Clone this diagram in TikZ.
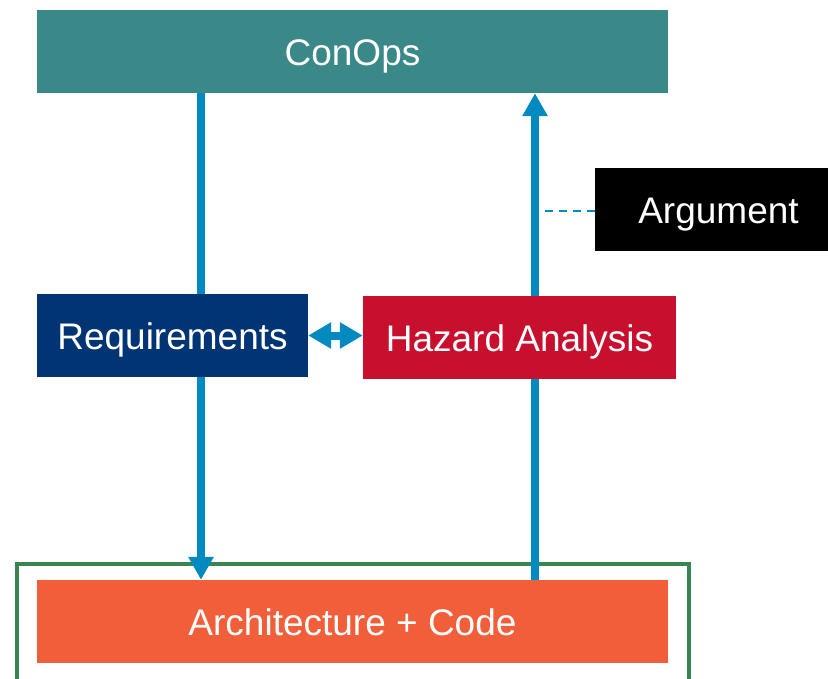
\documentclass[tikz,border=0pt]{standalone}
\usepackage{fontspec}
\setmainfont{Liberation Sans}
\usetikzlibrary{arrows.meta}
\definecolor{teal1}{HTML}{3A8887}
\definecolor{navy1}{HTML}{003473}
\definecolor{crimson1}{HTML}{C8102E}
\definecolor{orange1}{HTML}{F05F3A}
\definecolor{green1}{HTML}{3A8452}
\definecolor{flow}{HTML}{008AC0}
\tikzset{
  box/.style={rectangle, inner sep=0pt, text=white, minimum height=83pt,
    text height=27pt, text depth=-2pt,
    font=\fontsize{37}{44}\selectfont},
  flowline/.style={draw=flow, line width=8pt},
  flowarrow/.style={flowline, -{Triangle[width=24pt,length=23pt]}},
  flowboth/.style={flowline, {Triangle[width=25pt,length=23pt]}-{Triangle[width=25pt,length=23pt]}},
  linkline/.style={draw=flow, line width=2pt, dash pattern=on 8pt off 6pt},
}
\begin{document}
\begin{tikzpicture}[x=1pt, y=-1pt]
  \useasboundingbox (0,0) rectangle (828,678);
  \clip (0,0) rectangle (828,678);

  % frame around the implementation
  \draw[green1, line width=4pt] (17,564) rectangle (689,700);

  % blocks
  \node[box, fill=teal1, minimum width=631pt, text depth=-7pt] (conops) at (352.5,51.5) {ConOps};
  \node[box, fill=navy1, minimum width=271pt] (req) at (172.5,335.5) {Requirements};
  \node[box, fill=crimson1, minimum width=313pt] (haz) at (519.5,337.5) {Hazard Analysis};
  \node[box, fill=black, minimum width=247pt] (arg) at (718.5,209.5) {Argument};
  \node[box, fill=orange1, minimum width=631pt] (arch) at (352.5,621.5) {Architecture + Code};

  % vertical flow positions
  \coordinate (lx) at (201,0);
  \coordinate (rx) at (535,0);

  % down the left side
  \draw[flowline] (conops.south -| lx) -- (req.north -| lx);
  \draw[flowarrow] (req.south -| lx) -- (arch.north -| lx);

  % up the right side
  \draw[flowline] (arch.north -| rx) -- (haz.south -| rx);
  \draw[flowarrow] (haz.north -| rx) -- (conops.south -| rx);

  % link between requirements and hazards
  \draw[flowboth] (req.east) -- (req.east -| haz.west);

  % argument attached to the upward flow
  \coordinate (argend) at (545,210.5);
  \draw[linkline] (argend) -- (argend -| arg.west);
\end{tikzpicture}
\end{document}
